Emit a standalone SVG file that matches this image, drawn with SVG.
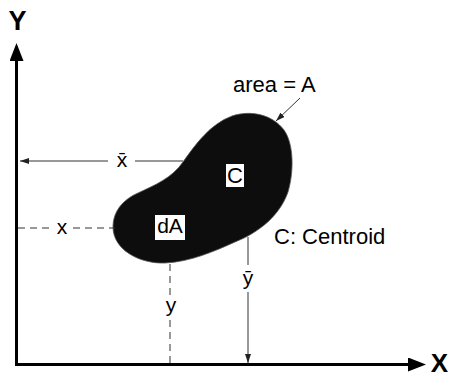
<svg xmlns="http://www.w3.org/2000/svg" width="452" height="378" viewBox="0 0 452 378">
  <defs>
    <style>
      .axis { stroke: #000; stroke-width: 3; fill: none; }
      .thin { stroke: #333; stroke-width: 1; fill: none; }
      .dash { stroke: #333; stroke-width: 1; fill: none; stroke-dasharray: 7 5; }
      .ax-label { font-family: "Liberation Sans", Arial, sans-serif; font-weight: bold; font-size: 27px; fill: #000; text-anchor: middle; }
      .lbl { font-family: "Liberation Sans", Arial, sans-serif; font-size: 21px; fill: #000; text-anchor: middle; }
      .note { font-family: "Liberation Sans", Arial, sans-serif; font-size: 22px; fill: #000; }
      .box { fill: #fff; stroke: none; }
    </style>
    <marker id="big" viewBox="0 0 18 14" markerWidth="18" markerHeight="14" refX="1" refY="7" orient="auto" markerUnits="userSpaceOnUse">
      <path d="M0,0 L18,7 L0,14 z" fill="#000"/>
    </marker>
    <marker id="small" viewBox="0 0 9 6" markerWidth="9" markerHeight="6" refX="9" refY="3" orient="auto" markerUnits="userSpaceOnUse">
      <path d="M0,0 L9,3 L0,6 z" fill="#222"/>
    </marker>
  </defs>
  <rect width="452" height="378" fill="#fff"/>

  <g id="axis-y">
    <line class="axis" x1="16.5" y1="366" x2="16.5" y2="60" marker-end="url(#big)"/>
    <text class="ax-label" x="17.5" y="30">Y</text>
  </g>
  <g id="axis-x">
    <line class="axis" x1="15" y1="364.5" x2="409" y2="364.5" marker-end="url(#big)"/>
    <text class="ax-label" x="439.5" y="372" style="font-size:26px">X</text>
  </g>

  <g id="area">
    <path d="M113,227 C113,212 122,200 138,193 C155,185 172,178 183,162 C195,145 210,124 232,116 C250,110 272,114 284,130 C294,144 294,172 288,192 C280,215 260,232 235,242 C215,251 190,262 165,263 C140,264 113,250 113,227 Z" fill="#0d0d0d" stroke="#555" stroke-width="0.8"/>
  </g>

  <g id="centroid">
    <rect class="box" x="226" y="164" width="18" height="23"/>
    <text class="lbl" x="235" y="183" style="font-size:22px">C</text>
  </g>
  <g id="element-dA">
    <rect class="box" x="155" y="215" width="30" height="25"/>
    <text class="lbl" x="170" y="232.5">dA</text>
  </g>

  <g id="connectors">
    <line class="thin" x1="108" y1="161" x2="20" y2="161" marker-end="url(#small)"/>
    <line class="thin" x1="135" y1="161" x2="183" y2="161"/>
    <line class="dash" x1="18" y1="228" x2="52" y2="228"/>
    <line class="dash" x1="73" y1="228" x2="115" y2="228"/>
    <line class="dash" x1="170" y1="264" x2="170" y2="296"/>
    <line class="dash" x1="170" y1="320" x2="170" y2="363"/>
    <line class="thin" x1="248" y1="237" x2="248" y2="265"/>
    <line class="thin" x1="248" y1="292" x2="248" y2="363" marker-end="url(#small)"/>
    <line class="thin" x1="300" y1="98" x2="276" y2="121" marker-end="url(#small)"/>
  </g>

  <g id="labels">
    <text class="lbl" x="122" y="167">x̄</text>
    <text class="lbl" x="62" y="234">x</text>
    <text class="lbl" x="171" y="312">y</text>
    <text class="lbl" x="248" y="285">ȳ</text>
    <text class="note" x="233" y="92">area = A</text>
    <text class="note" x="274" y="244">C: Centroid</text>
  </g>
</svg>
